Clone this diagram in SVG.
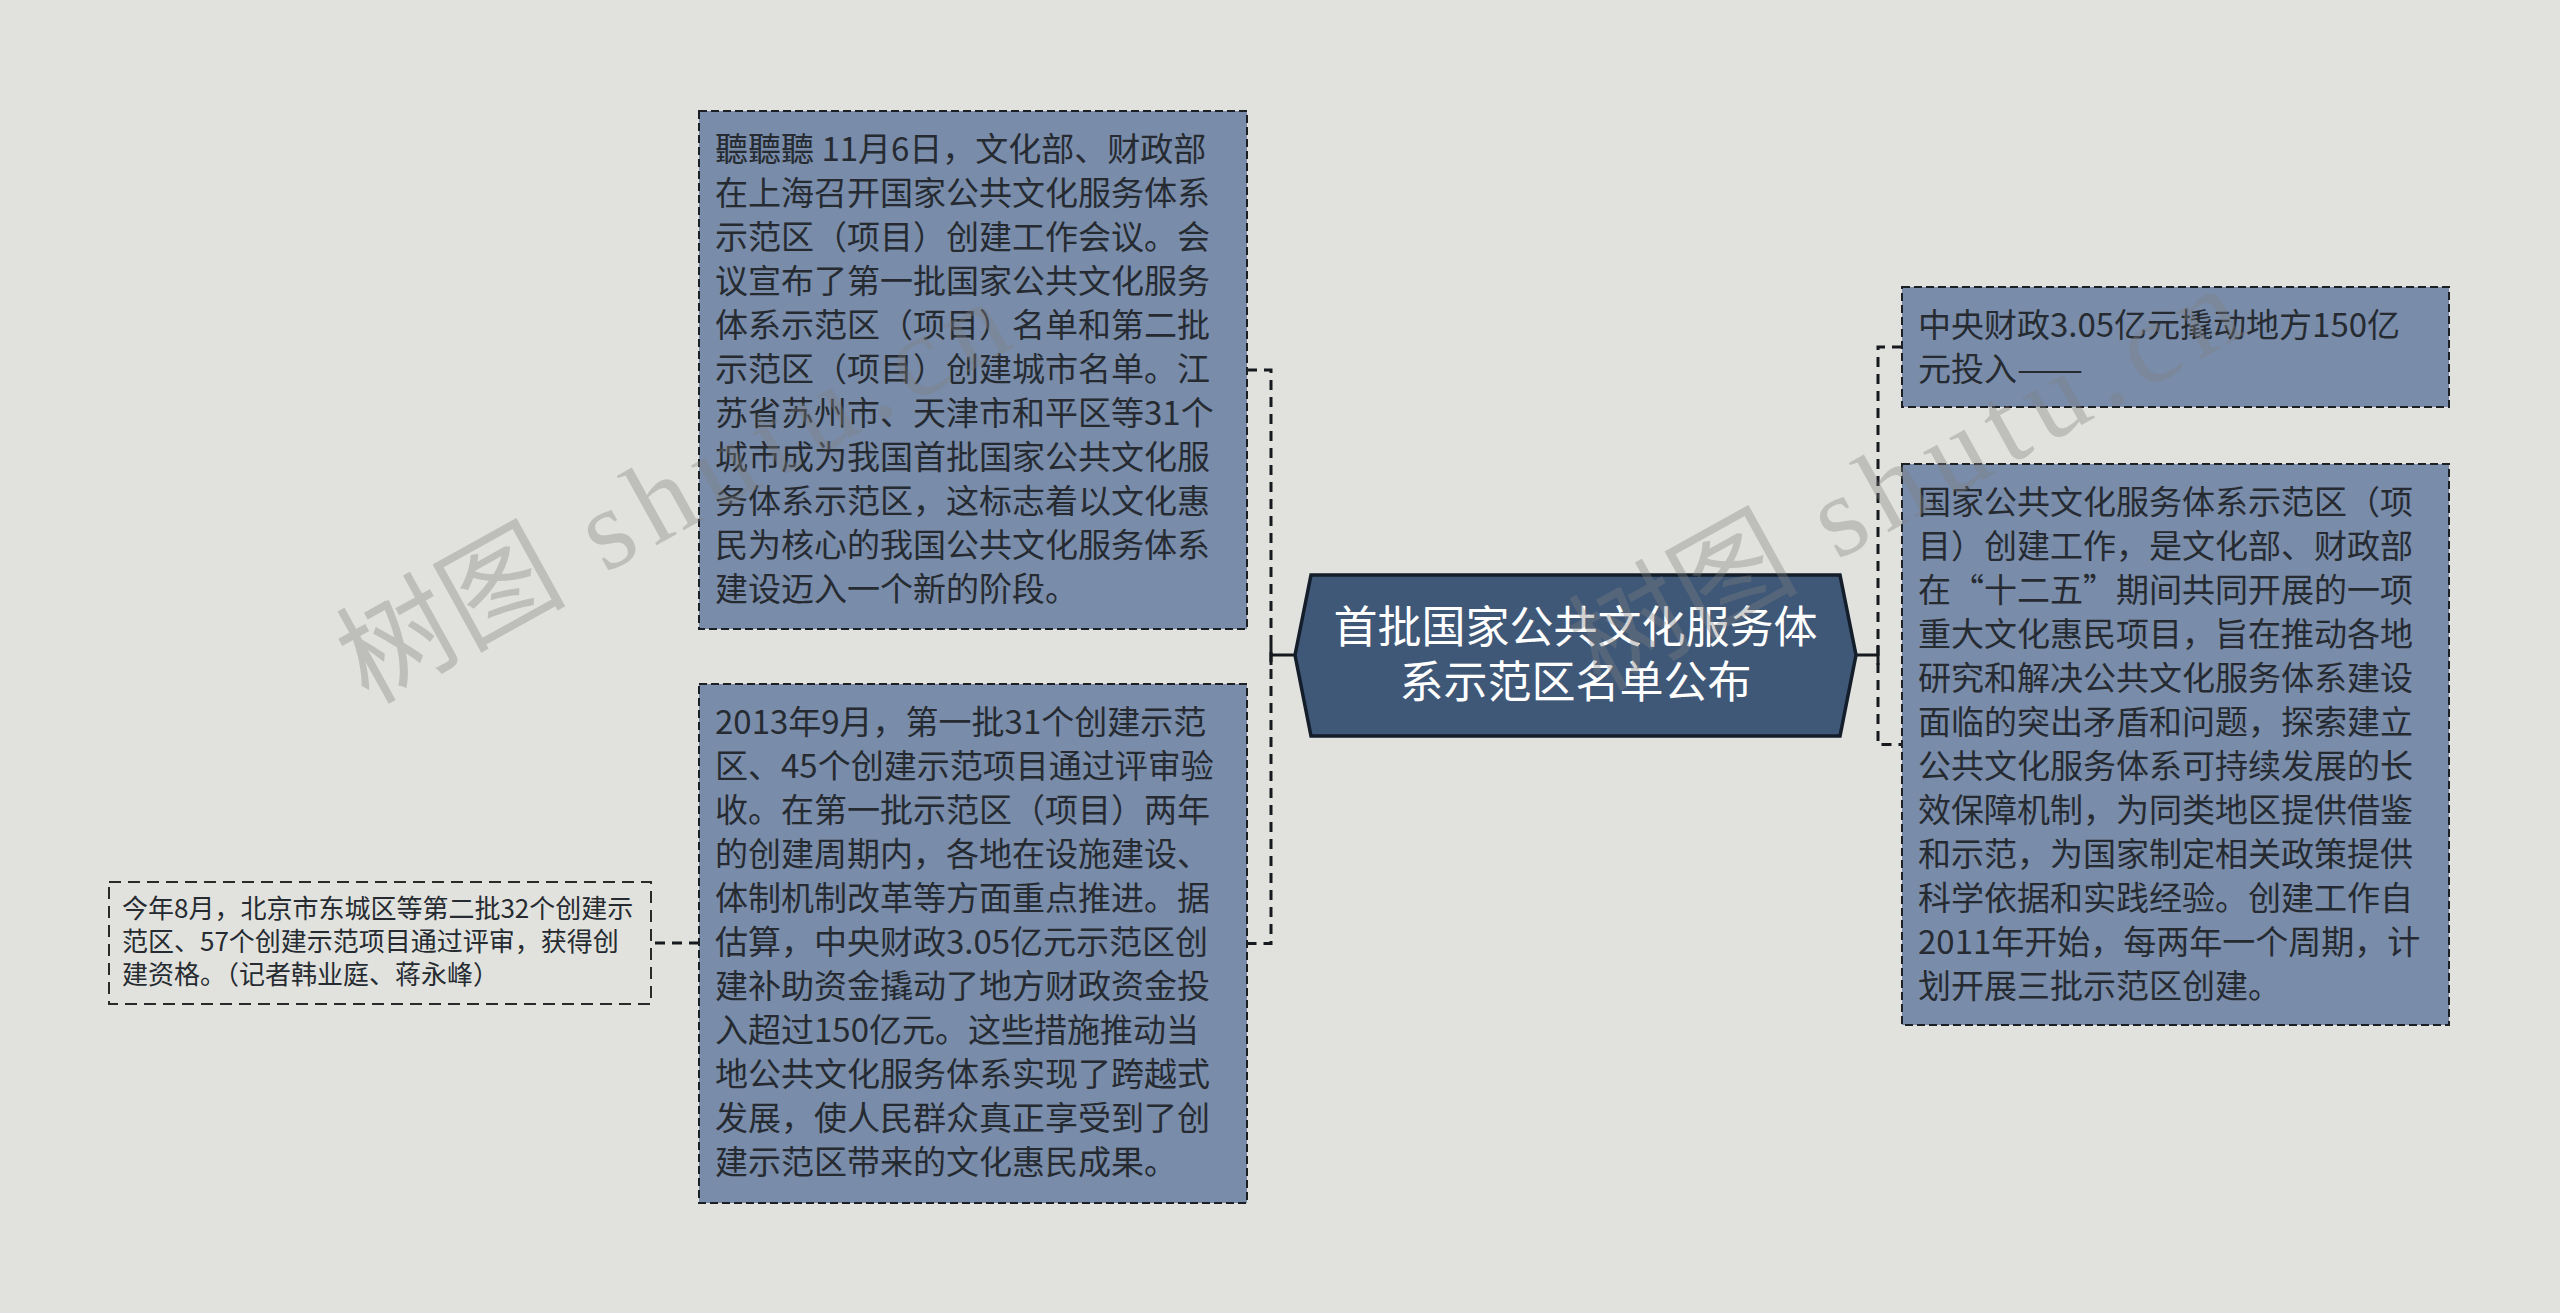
<svg xmlns="http://www.w3.org/2000/svg" width="2560" height="1313" viewBox="0 0 2560 1313">
<style>
.bg{fill:#e1e2dd}
.box{fill:#798caa;stroke:#1c1f24;stroke-width:2;stroke-dasharray:8 4}
.plain{fill:none;stroke:#2a2a2a;stroke-width:2;stroke-dasharray:12 7}
.t{font-family:"Noto Sans CJK SC","Noto Sans",sans-serif;font-size:33px;fill:#262b31}
.ts{font-family:"Noto Sans CJK SC","Noto Sans",sans-serif;font-size:26px;fill:#262b31}
.hex{fill:#3f5878;stroke:#141d2a;stroke-width:3.5}
.ht{font-family:"Noto Sans CJK SC","Noto Sans",sans-serif;font-size:44px;fill:#ffffff;text-anchor:middle}
.dash{fill:none;stroke:#161a1f;stroke-width:3;stroke-dasharray:10 7}
.solid{fill:none;stroke:#161a1f;stroke-width:3}
.wm{font-family:"Liberation Serif","Noto Sans CJK SC",serif;font-size:115px;fill:#7f7f7f;fill-opacity:0.36}
</style>
<rect class="bg" x="0" y="0" width="2560" height="1313"/>
<g id="connectors">
<path class="solid" d="M1295,655 H1271 M1271,645 V665"/>
<path class="dash" d="M1247,370 H1271 V943.5 H1247"/>
<path class="dash" d="M699,943 H651"/>
<path class="solid" d="M1856,655 H1878 M1878,645 V665"/>
<path class="dash" d="M1902,347 H1878 V744.5 H1902"/>
</g>
<g id="node-center">
<polygon class="hex" points="1295,655 1311,575 1840,575 1856,655 1840,736 1311,736"/>
<text class="ht"><tspan x="1575.5" y="643">首批国家公共文化服务体</tspan><tspan x="1575.5" y="698">系示范区名单公布</tspan></text>
</g>
<g id="node-tl">
<rect class="box" x="699" y="111" width="548" height="518"/>
<text class="t">
<tspan x="715" y="161">聽聽聽 11月6日，文化部、财政部</tspan>
<tspan x="715" y="205">在上海召开国家公共文化服务体系</tspan>
<tspan x="715" y="249">示范区（项目）创建工作会议。会</tspan>
<tspan x="715" y="293">议宣布了第一批国家公共文化服务</tspan>
<tspan x="715" y="337">体系示范区（项目）名单和第二批</tspan>
<tspan x="715" y="381">示范区（项目）创建城市名单。江</tspan>
<tspan x="715" y="425">苏省苏州市、天津市和平区等31个</tspan>
<tspan x="715" y="469">城市成为我国首批国家公共文化服</tspan>
<tspan x="715" y="513">务体系示范区，这标志着以文化惠</tspan>
<tspan x="715" y="557">民为核心的我国公共文化服务体系</tspan>
<tspan x="715" y="601">建设迈入一个新的阶段。</tspan>
</text>
</g>
<g id="node-bl">
<rect class="box" x="699" y="684" width="548" height="519"/>
<text class="t">
<tspan x="715" y="734">2013年9月，第一批31个创建示范</tspan>
<tspan x="715" y="778">区、45个创建示范项目通过评审验</tspan>
<tspan x="715" y="822">收。在第一批示范区（项目）两年</tspan>
<tspan x="715" y="866">的创建周期内，各地在设施建设、</tspan>
<tspan x="715" y="910">体制机制改革等方面重点推进。据</tspan>
<tspan x="715" y="954">估算，中央财政3.05亿元示范区创</tspan>
<tspan x="715" y="998">建补助资金撬动了地方财政资金投</tspan>
<tspan x="715" y="1042">入超过150亿元。这些措施推动当</tspan>
<tspan x="715" y="1086">地公共文化服务体系实现了跨越式</tspan>
<tspan x="715" y="1130">发展，使人民群众真正享受到了创</tspan>
<tspan x="715" y="1174">建示范区带来的文化惠民成果。</tspan>
</text>
</g>
<g id="node-fl">
<rect class="plain" x="109" y="882" width="542" height="122"/>
<text class="ts">
<tspan x="122" y="918">今年8月，北京市东城区等第二批32个创建示</tspan>
<tspan x="122" y="951">范区、57个创建示范项目通过评审，获得创</tspan>
<tspan x="122" y="984">建资格。（记者韩业庭、蒋永峰）</tspan>
</text>
</g>
<g id="node-rt">
<rect class="box" x="1902" y="287" width="547" height="120"/>
<text class="t">
<tspan x="1918" y="337">中央财政3.05亿元撬动地方150亿</tspan>
<tspan x="1918" y="381">元投入<tspan textLength="66" lengthAdjust="spacingAndGlyphs">——</tspan></tspan>
</text>
</g>
<g id="node-rb">
<rect class="box" x="1902" y="464" width="547" height="561"/>
<text class="t">
<tspan x="1918" y="514">国家公共文化服务体系示范区（项</tspan>
<tspan x="1918" y="558">目）创建工作，是文化部、财政部</tspan>
<tspan x="1918" y="602">在“十二五”期间共同开展的一项</tspan>
<tspan x="1918" y="646">重大文化惠民项目，旨在推动各地</tspan>
<tspan x="1918" y="690">研究和解决公共文化服务体系建设</tspan>
<tspan x="1918" y="734">面临的突出矛盾和问题，探索建立</tspan>
<tspan x="1918" y="778">公共文化服务体系可持续发展的长</tspan>
<tspan x="1918" y="822">效保障机制，为同类地区提供借鉴</tspan>
<tspan x="1918" y="866">和示范，为国家制定相关政策提供</tspan>
<tspan x="1918" y="910">科学依据和实践经验。创建工作自</tspan>
<tspan x="1918" y="954">2011年开始，每两年一个周期，计</tspan>
<tspan x="1918" y="998">划开展三批示范区创建。</tspan>
</text>
</g>
<g id="watermarks">
<text class="wm" transform="translate(368,705) rotate(-29)">树图<tspan letter-spacing="12"> shutu.cn</tspan></text>
<text class="wm" transform="translate(1600,692) rotate(-29)">树图<tspan letter-spacing="12"> shutu.cn</tspan></text>
</g>
</svg>
